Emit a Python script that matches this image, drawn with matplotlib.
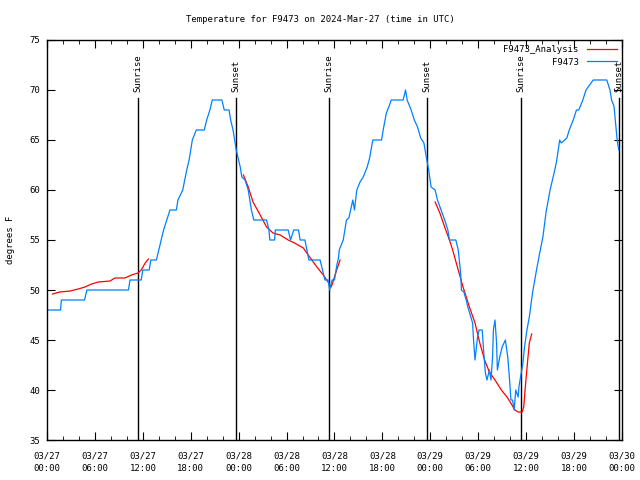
import matplotlib
matplotlib.use("Agg")
import matplotlib.pyplot as plt

# hours since 2024-03-27 00:00 UTC
obs_hours = [0, 1.7, 1.8, 4.7, 5.0, 10.2, 10.4, 11.8, 12.0, 12.8, 13.0, 13.7, 14.0, 14.3, 14.6,
             15.0, 15.4, 16.2, 16.4, 17.0, 17.5, 17.8, 18.2, 18.7, 19.7, 20.0, 20.4, 20.7, 21.9,
             22.2, 22.8, 23.0, 23.3, 23.7, 24.2, 24.4, 24.8, 25.2, 25.4, 25.6, 25.9, 27.5, 27.8,
             27.9, 28.5, 28.6, 30.2, 30.5, 30.9, 31.5, 31.7, 32.3, 32.8, 34.2, 34.6, 34.8, 35.2,
             35.4, 35.7, 36.0, 36.3, 36.5, 36.6, 37.1, 37.5, 37.8, 38.1, 38.3, 38.5, 38.8, 39.2,
             39.6, 40.1, 40.4, 40.8, 41.9, 42.1, 42.5, 42.9, 43.1, 44.6, 44.9, 45.1, 45.6, 46.0,
             46.4, 46.8, 47.2, 47.5, 47.8, 48.1, 48.6, 48.9, 49.8, 50.2, 50.4, 51.2, 51.5, 51.8,
             51.9, 52.2, 52.5, 52.7, 53.3, 53.4, 53.6, 53.9, 54.1, 54.5, 54.7, 54.9, 55.1, 55.4,
             55.6, 55.8, 55.9, 56.1, 56.3, 56.4, 56.7, 57.0, 57.4, 57.7, 57.9, 58.1, 58.3, 58.5,
             58.7, 59.0, 59.1, 59.3, 59.6, 59.8, 60.1, 60.4, 60.8, 61.3, 61.7, 62.1, 62.5, 63.0,
             63.5, 63.8, 64.2, 64.4, 65.1, 65.4, 65.9, 66.3, 66.6, 67.1, 67.5, 68.4, 70.1, 70.5,
             70.7, 71.0, 71.2, 71.4, 71.6]
obs_temp = [48, 48, 49, 49, 50, 50, 51, 51, 52, 52, 53, 53, 54, 55, 56,
            57, 58, 58, 59, 60, 62, 63, 65, 66, 66, 67, 68, 69, 69,
            68, 68, 67, 66, 64, 62.3, 61.3, 61, 60, 59, 58, 57, 57, 56,
            55, 55, 56, 56, 55, 56, 56, 55, 55, 53, 53, 51.7, 51, 51,
            50, 51, 51, 52.5, 53.2, 54, 55, 57, 57.2, 58.3, 59, 58, 60, 60.8,
            61.3, 62.3, 63.2, 65, 65, 66, 67.7, 68.5, 69, 69, 70, 69, 68, 67,
            66.3, 65.2, 64.7, 63.3, 62, 60.3, 60, 59, 57, 56, 55, 55, 54, 51.7,
            50, 49.8, 49, 48.3, 46.7, 45.2, 43, 45.2, 46, 46, 43.7, 41.7, 41, 42,
            41, 43.3, 46, 47, 44.7, 42, 43.3, 44.3, 45, 43.3, 41.3, 39, 39, 38,
            40, 39.3, 40.3, 41.3, 42.7, 44.3, 46, 47.3, 49.7, 52, 53.7, 55.3, 57.8, 60,
            61.7, 62.8, 65, 64.7, 65.2, 66, 67, 68, 68, 69, 70, 71, 71, 70,
            69, 68.4, 66.7, 65, 64]

fit1_hours = [0.7, 1.6, 2.9, 3.9, 4.75, 5.6, 6.4, 7.9, 8.5, 9.75, 10.6, 11.4, 11.8, 12.3, 12.7]
fit1_temp = [49.6, 49.8, 49.9, 50.1, 50.3, 50.6, 50.8, 50.9, 51.2, 51.2, 51.5, 51.7, 52.0, 52.7, 53.1]
fit2_hours = [24.6, 25.2, 25.8, 26.7, 27.5, 27.9, 28.3, 29.2, 30.2, 31.0, 32.1, 32.9, 33.8, 34.6,
              35.2, 35.6, 36.0, 36.4, 36.7]
fit2_temp = [61.5, 60.3, 58.8, 57.5, 56.3, 56.0, 55.7, 55.5, 55.0, 54.7, 54.2, 53.3, 52.3, 51.5,
             50.8, 50.3, 51.3, 52.3, 53.0]
fit3_hours = [48.6, 49.2, 49.8, 50.4, 50.8, 51.5, 52.1, 52.9, 53.6, 54.2, 54.8, 55.4, 56.1, 56.9,
              57.7, 58.6, 59.0, 59.5, 59.7, 59.9, 60.2, 60.4, 60.7]
fit3_temp = [58.8, 57.7, 56.3, 55.0, 54.0, 52.0, 50.3, 48.3, 46.7, 44.7, 43.0, 41.8, 41.0, 40.0,
             39.2, 38.0, 37.8, 37.8, 38.3, 40.3, 43.0, 44.7, 45.6]

sun_hours = [11.4, 23.65, 35.3, 47.55, 59.3, 71.6]
sun_labels = ["Sunrise", "Sunset", "Sunrise", "Sunset", "Sunrise", "Sunset"]

tick_hours = list(range(0, 73, 6))
tick_labels = ["03/27\n00:00", "03/27\n06:00", "03/27\n12:00", "03/27\n18:00",
               "03/28\n00:00", "03/28\n06:00", "03/28\n12:00", "03/28\n18:00",
               "03/29\n00:00", "03/29\n06:00", "03/29\n12:00", "03/29\n18:00",
               "03/30\n00:00"]

plt.rcParams['font.family'] = ['DejaVu Sans Mono']
plt.rcParams['font.size'] = 6.5

fig = plt.figure(figsize=(6.4, 4.8), dpi=100)
ax = fig.add_axes([0.0734, 0.0833, 0.8984, 0.8334])

for h, lab in zip(sun_hours, sun_labels):
    ax.plot([h, h], [35, 69.2], color='black', lw=1.0)
    ax.text(h, 69.8, lab, rotation=90, ha='center', va='bottom')

red = '#ff0000'
blue = '#0080ff'
ax.plot(fit1_hours, fit1_temp, color=red, lw=0.9, label='F9473_Analysis')
ax.plot(fit2_hours, fit2_temp, color=red, lw=0.9)
ax.plot(fit3_hours, fit3_temp, color=red, lw=0.9)
ax.plot(obs_hours, obs_temp, color=blue, lw=0.9, label='F9473')

ax.set_xlim(0, 72)
ax.set_ylim(35, 75)
ax.set_xticks(tick_hours)
ax.set_xticklabels(tick_labels, linespacing=1.6)
ax.set_xticks(range(0, 73, 2), minor=True)
ax.set_yticks(range(35, 76, 5))
ax.tick_params(which='both', direction='in', top=True, right=True, colors='black')
ax.tick_params(which='major', length=6)
ax.tick_params(which='minor', length=3)
ax.tick_params(axis='x', which='major', pad=8)
ax.tick_params(axis='y', which='major', pad=5)
ax.set_ylabel('degrees F')
ax.yaxis.set_label_coords(-0.055, 0.5)
fig.text(0.5, 1 - 20 / 480, 'Temperature for F9473 on 2024-Mar-27 (time in UTC)',
         ha='center', va='center')
for s in ax.spines.values():
    s.set_linewidth(1.0)

leg = ax.legend(loc='upper right', frameon=False, markerfirst=False, handlelength=3.3,
                handletextpad=0.9, borderaxespad=0.3, borderpad=0.3, labelspacing=0.35)

fig.savefig('out.png', dpi=100)
